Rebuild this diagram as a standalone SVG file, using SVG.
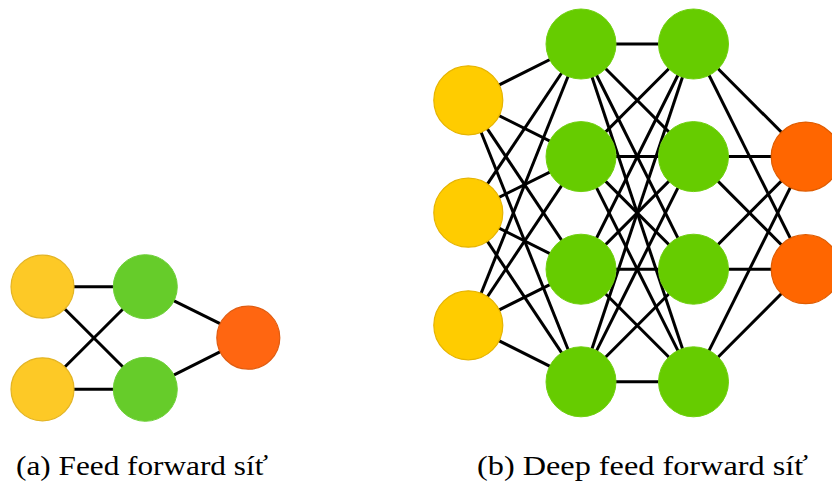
<svg xmlns="http://www.w3.org/2000/svg" width="832" height="481" viewBox="0 0 832 481">
<style>
.ln{stroke:#000;stroke-width:3;fill:none}
.y{fill:#FDC926;stroke:#E3B423;stroke-width:1.2}
.yb{fill:#FFCC00;stroke:#E6B400;stroke-width:1.2}
.g{fill:#66CC2A;stroke:#6ED038;stroke-width:1}
.gb{fill:#66CC00;stroke:#70D010;stroke-width:1}
.o{fill:#FF6611;stroke:#E05C10;stroke-width:1.2}
.ob{fill:#FF6600;stroke:#E05C00;stroke-width:1.2}
</style>
<rect width="832" height="481" fill="#fff"/>
<g id="connectors-a">
<line class="ln" x1="42.5" y1="286.7" x2="145.3" y2="286.7"/>
<line class="ln" x1="42.5" y1="286.7" x2="145.3" y2="389.3"/>
<line class="ln" x1="42.5" y1="389.3" x2="145.3" y2="286.7"/>
<line class="ln" x1="42.5" y1="389.3" x2="145.3" y2="389.3"/>
<line class="ln" x1="145.3" y1="286.7" x2="248.3" y2="337.7"/>
<line class="ln" x1="145.3" y1="389.3" x2="248.3" y2="337.7"/>
</g>
<g id="connectors-b">
<line class="ln" x1="468.3" y1="100.3" x2="581" y2="44"/>
<line class="ln" x1="468.3" y1="100.3" x2="581" y2="156.6"/>
<line class="ln" x1="468.3" y1="100.3" x2="581" y2="269.2"/>
<line class="ln" x1="468.3" y1="100.3" x2="581" y2="381.8"/>
<line class="ln" x1="468.3" y1="212.7" x2="581" y2="44"/>
<line class="ln" x1="468.3" y1="212.7" x2="581" y2="156.6"/>
<line class="ln" x1="468.3" y1="212.7" x2="581" y2="269.2"/>
<line class="ln" x1="468.3" y1="212.7" x2="581" y2="381.8"/>
<line class="ln" x1="468.3" y1="325.3" x2="581" y2="44"/>
<line class="ln" x1="468.3" y1="325.3" x2="581" y2="156.6"/>
<line class="ln" x1="468.3" y1="325.3" x2="581" y2="269.2"/>
<line class="ln" x1="468.3" y1="325.3" x2="581" y2="381.8"/>
<line class="ln" x1="581" y1="44" x2="693.5" y2="44"/>
<line class="ln" x1="581" y1="44" x2="693.5" y2="156.6"/>
<line class="ln" x1="581" y1="44" x2="693.5" y2="269.2"/>
<line class="ln" x1="581" y1="44" x2="693.5" y2="381.8"/>
<line class="ln" x1="581" y1="156.6" x2="693.5" y2="44"/>
<line class="ln" x1="581" y1="156.6" x2="693.5" y2="156.6"/>
<line class="ln" x1="581" y1="156.6" x2="693.5" y2="269.2"/>
<line class="ln" x1="581" y1="156.6" x2="693.5" y2="381.8"/>
<line class="ln" x1="581" y1="269.2" x2="693.5" y2="44"/>
<line class="ln" x1="581" y1="269.2" x2="693.5" y2="156.6"/>
<line class="ln" x1="581" y1="269.2" x2="693.5" y2="269.2"/>
<line class="ln" x1="581" y1="269.2" x2="693.5" y2="381.8"/>
<line class="ln" x1="581" y1="381.8" x2="693.5" y2="44"/>
<line class="ln" x1="581" y1="381.8" x2="693.5" y2="156.6"/>
<line class="ln" x1="581" y1="381.8" x2="693.5" y2="269.2"/>
<line class="ln" x1="581" y1="381.8" x2="693.5" y2="381.8"/>
<line class="ln" x1="693.5" y1="44" x2="805.7" y2="156.6"/>
<line class="ln" x1="693.5" y1="44" x2="805.7" y2="269.2"/>
<line class="ln" x1="693.5" y1="156.6" x2="805.7" y2="156.6"/>
<line class="ln" x1="693.5" y1="156.6" x2="805.7" y2="269.2"/>
<line class="ln" x1="693.5" y1="269.2" x2="805.7" y2="156.6"/>
<line class="ln" x1="693.5" y1="269.2" x2="805.7" y2="269.2"/>
<line class="ln" x1="693.5" y1="381.8" x2="805.7" y2="156.6"/>
<line class="ln" x1="693.5" y1="381.8" x2="805.7" y2="269.2"/>
</g>
<g id="a-in1"><circle class="y" cx="42.5" cy="286.7" r="31.5"/></g>
<g id="a-in2"><circle class="y" cx="42.5" cy="389.3" r="31.5"/></g>
<g id="a-h1"><circle class="g" cx="145.3" cy="286.7" r="32"/></g>
<g id="a-h2"><circle class="g" cx="145.3" cy="389.3" r="32"/></g>
<g id="a-out"><circle class="o" cx="248.3" cy="337.7" r="31.5"/></g>
<g id="b-in1"><circle class="yb" cx="468.3" cy="100.3" r="34.5"/></g>
<g id="b-in2"><circle class="yb" cx="468.3" cy="212.7" r="34.5"/></g>
<g id="b-in3"><circle class="yb" cx="468.3" cy="325.3" r="34.5"/></g>
<g id="b-h11"><circle class="gb" cx="581" cy="44" r="35"/></g>
<g id="b-h12"><circle class="gb" cx="581" cy="156.6" r="35"/></g>
<g id="b-h13"><circle class="gb" cx="581" cy="269.2" r="35"/></g>
<g id="b-h14"><circle class="gb" cx="581" cy="381.8" r="35"/></g>
<g id="b-h21"><circle class="gb" cx="693.5" cy="44" r="35"/></g>
<g id="b-h22"><circle class="gb" cx="693.5" cy="156.6" r="35"/></g>
<g id="b-h23"><circle class="gb" cx="693.5" cy="269.2" r="35"/></g>
<g id="b-h24"><circle class="gb" cx="693.5" cy="381.8" r="35"/></g>
<g id="b-out1"><circle class="ob" cx="805.7" cy="156.6" r="34.5"/></g>
<g id="b-out2"><circle class="ob" cx="805.7" cy="269.2" r="34.5"/></g>
<g id="captions" font-family="'Liberation Serif', 'Times New Roman', serif" font-size="27" fill="#000">
<text x="16" y="474.5" textLength="252" lengthAdjust="spacingAndGlyphs">(a) Feed forward síť</text>
<text x="477" y="474.5" textLength="331" lengthAdjust="spacingAndGlyphs">(b) Deep feed forward síť</text>
</g>
</svg>
